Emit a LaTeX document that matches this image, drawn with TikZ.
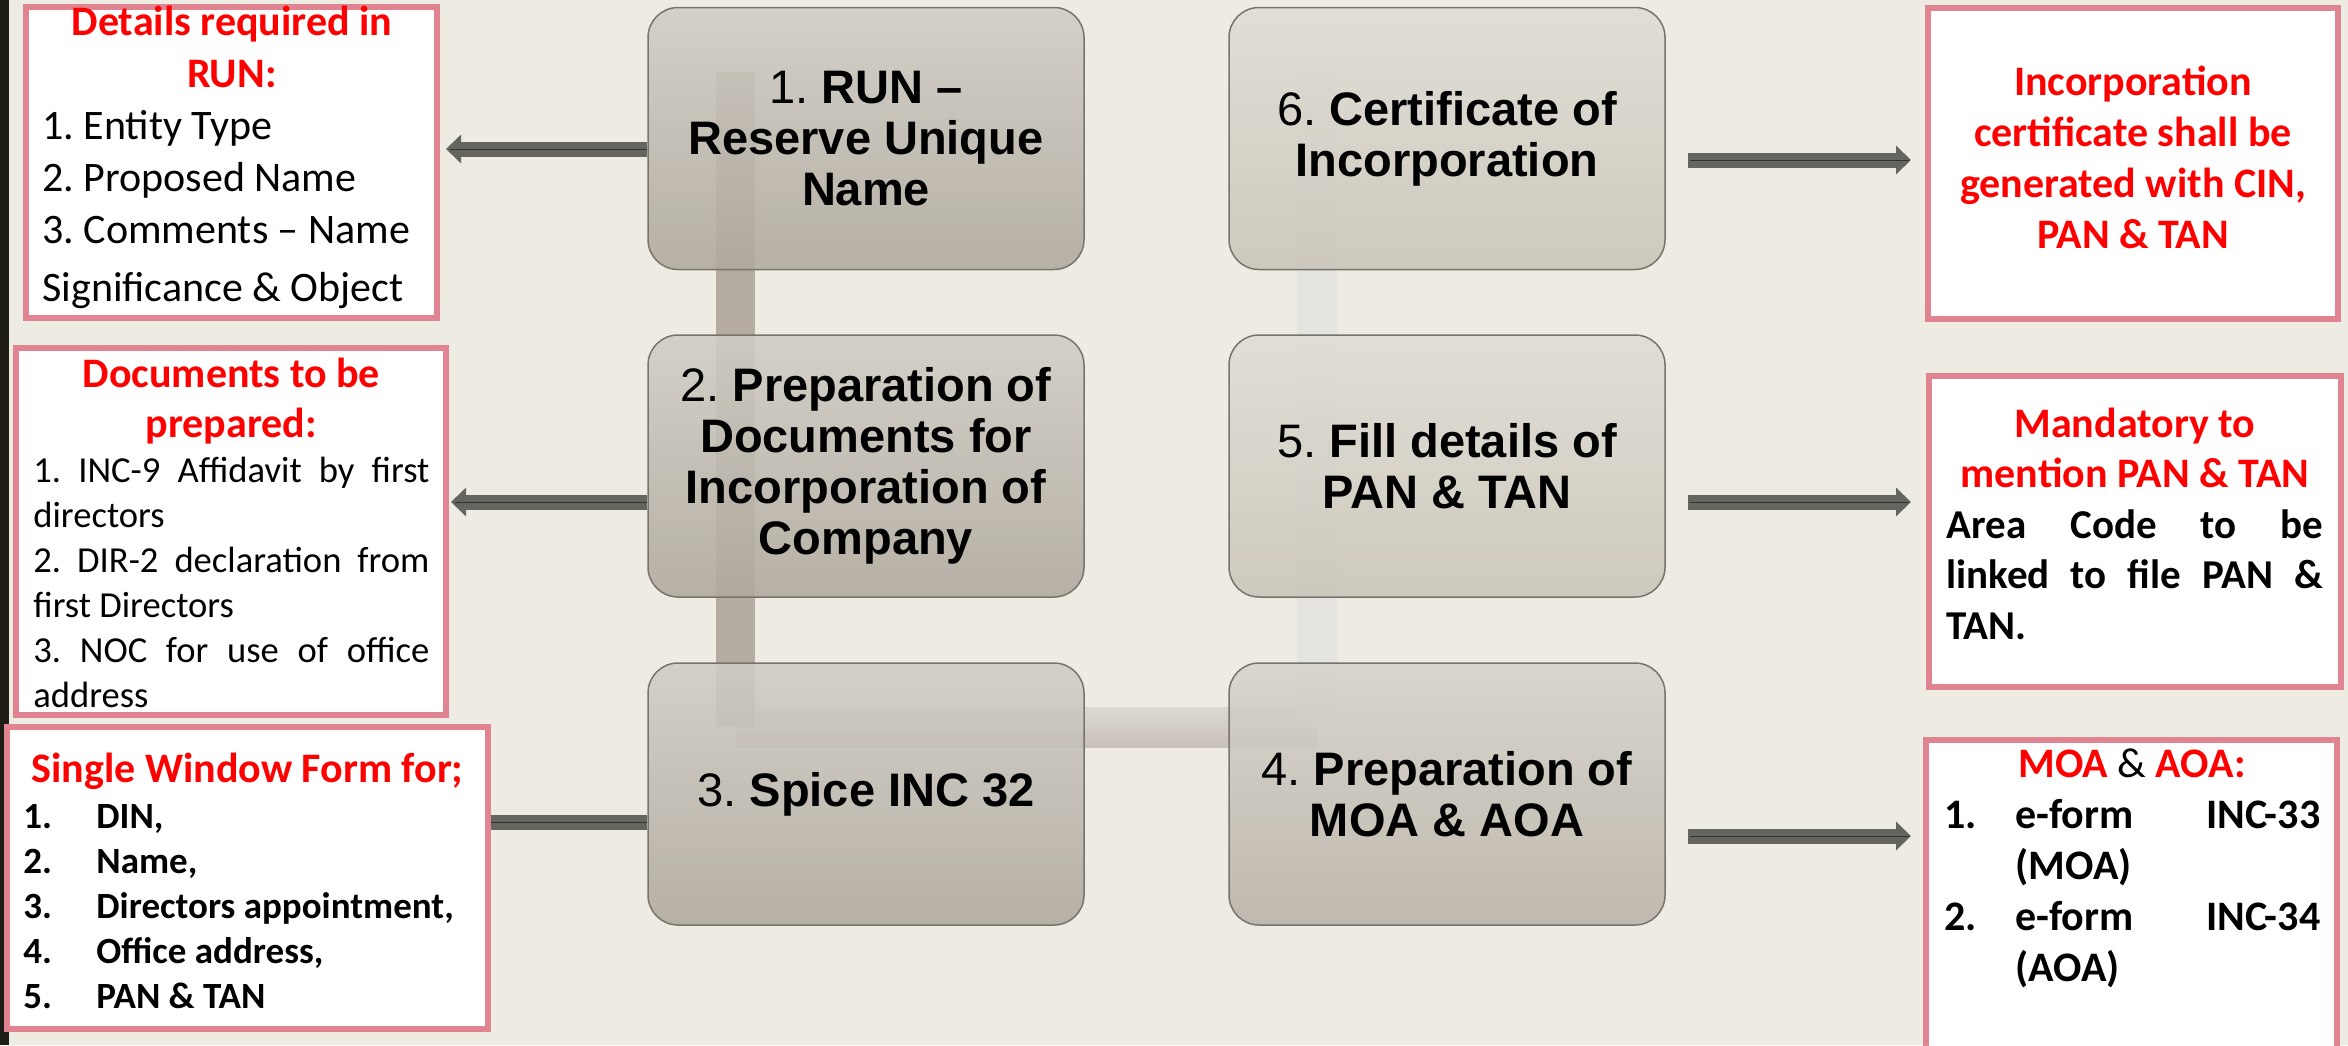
\documentclass[tikz,border=0pt]{standalone}
\usepackage{fontspec}
\setmainfont{Carlito}
\newfontfamily\arialf{Liberation Sans}
\usetikzlibrary{arrows.meta,calc}
\frenchspacing
\definecolor{bgc}{RGB}{238,235,227}
\definecolor{stripc}{RGB}{30,30,22}
\definecolor{pinkb}{RGB}{224,132,146}
\definecolor{redt}{RGB}{255,0,0}
\definecolor{arrc}{RGB}{100,101,94}
\definecolor{arrline}{RGB}{50,50,46}
\definecolor{boxline}{RGB}{120,116,108}
\definecolor{bandl}{RGB}{180,172,161}
\definecolor{bandr}{RGB}{228,227,224}
\definecolor{bandht}{RGB}{220,217,212}
\definecolor{bandhb}{RGB}{200,192,184}
\definecolor{aTop}{RGB}{208,205,197}
\definecolor{aBot}{RGB}{175,168,157}
\definecolor{bTop}{RGB}{224,221,213}
\definecolor{bBot}{RGB}{202,197,185}
\definecolor{cTop}{RGB}{214,211,203}
\definecolor{cBot}{RGB}{185,178,167}
\tikzset{
  cbox/.style={draw=boxline, line width=0.75pt, rounded corners=15pt,
    minimum width=218pt, minimum height=131pt, inner sep=0pt, fill opacity=0.88},
  leftcol/.style={cbox, top color=aTop, bottom color=aBot},
  rightcol/.style={cbox, top color=bTop, bottom color=bBot},
  midcol/.style={cbox, top color=cTop, bottom color=cBot},
  ctext/.style={align=center, inner sep=0pt,
    font=\arialf\fontsize{23.5}{25.5}\selectfont},
  sbox/.style={draw=pinkb, line width=3pt, fill=white, inner sep=0pt},
  stext/.style={inner sep=0pt},
  arr/.style={draw=arrc, line width=7.5pt, -{Triangle[length=7.5pt,width=14pt]}},
  bar/.style={draw=arrc, line width=7.5pt},
  thinl/.style={draw=arrline, line width=0.5pt},
}
\begin{document}
\begin{tikzpicture}[x=0.5pt,y=-0.5pt]
\useasboundingbox (0,0) rectangle (2348,1045);
\clip (0,0) rectangle (2348,1045);
\fill[bgc] (0,0) rectangle (2348,1045);
\fill[stripc] (0,0) rectangle (9,1045);

% bending band (behind the boxes)
\shade[top color=bandht, bottom color=bandhb] (736,707) rectangle (1317,747);
\fill[bandl] (716,72) rectangle (755,727);
\fill[bandr] (1297,72) rectangle (1337,727);

% central process boxes
\node[leftcol] (b1) at (866,138.5) {};
\node[leftcol] (b2) at (866,466) {};
\node[leftcol] (b3) at (866,794) {};
\node[midcol] (b4) at (1447,794) {};
\node[rightcol] (b5) at (1447,466) {};
\node[rightcol] (b6) at (1447,138.5) {};

% side boxes
\node[sbox, minimum width=205.5pt, minimum height=155.5pt] (dA) at (231.5,162.5) {};
\node[sbox, minimum width=215pt, minimum height=183.5pt] (dB) at (231,531.5) {};

% connectors
\draw[arr, shorten >=3pt] (b1.west |- 0,149) -- (dA.east |- 0,149);
\draw[thinl, shorten >=5pt] (b1.west |- 0,149) -- (dA.east |- 0,149);
\draw[arr, shorten >=1pt] (b2.west |- 0,502) -- (dB.east |- 0,502);
\draw[thinl, shorten >=3pt] (b2.west |- 0,502) -- (dB.east |- 0,502);

\node[sbox, minimum width=240.5pt, minimum height=151pt] (dC) at (247.5,878) {};
\draw[bar] (b3.west |- 0,822) -- (dC.east |- 0,822);
\draw[thinl] (b3.west |- 0,822) -- (dC.east |- 0,822);
\node[sbox, minimum width=240.5pt, minimum height=151pt] (dCtop) at (dC) {};

\node[sbox, minimum width=205pt, minimum height=155.5pt] (dD) at (2133,163.5) {};
\node[sbox, minimum width=206pt, minimum height=155.5pt] (dE) at (2135,531.5) {};
\node[sbox, minimum width=205.5pt, minimum height=160pt] (dF) at (2131.5,900) {};

\draw[arr, shorten <=11pt, shorten >=7pt] (b6.east |- 0,160) -- (dD.west |- 0,160);
\draw[thinl, shorten <=12pt, shorten >=8pt] (b6.east |- 0,160) -- (dD.west |- 0,160);
\draw[arr, shorten <=11pt, shorten >=7.5pt] (b5.east |- 0,502) -- (dE.west |- 0,502);
\draw[thinl, shorten <=12pt, shorten >=8.5pt] (b5.east |- 0,502) -- (dE.west |- 0,502);
\draw[arr, shorten <=11pt, shorten >=6pt] (b4.east |- 0,836) -- (dF.west |- 0,836);
\draw[thinl, shorten <=12pt, shorten >=7pt] (b4.east |- 0,836) -- (dF.west |- 0,836);

% central texts
\node[ctext] (t1) at (b1) {1. \textbf{RUN –}\\\textbf{Reserve Unique}\\\textbf{Name}};
\node[ctext] (t2) at (b2) {2. \textbf{Preparation of}\\\textbf{Documents for}\\\textbf{Incorporation of}\\\textbf{Company}};
\node[ctext] (t3) at (b3) {3. \textbf{Spice INC 32}};
\node[ctext] (t4) at (b4) {4. \textbf{Preparation of}\\\textbf{MOA \& AOA}};
\node[ctext] (t5) at (b5) {5. \textbf{Fill details of}\\\textbf{PAN \& TAN}};
\node[ctext] (t6) at (b6) {6. \textbf{Certificate of}\\\textbf{Incorporation}};

% side texts
\node[stext, anchor=base west] (tA) at (42,35) {\begin{minipage}[t]{189.5pt}
\fontsize{21}{26}\selectfont
{\centering\bfseries\leavevmode\color{redt}Details required in\\RUN:\par}
\mbox{1. Entity Type}\\
\mbox{2. Proposed Name}\\
\mbox{3. Comments – Name}\\[3pt]
\mbox{Significance \& Object}
\end{minipage}};

\node[stext, anchor=base west] (tB) at (33,387) {\begin{minipage}[t]{198pt}
\fontsize{21}{25}\selectfont
{\centering\bfseries\leavevmode\color{redt}Documents to be\\prepared:\par}
\fontsize{18.3}{22.5}\selectfont\sloppy
1. INC-9 Affidavit by first\linebreak directors\par
2. DIR-2 declaration from\linebreak first Directors\par
3. NOC for use of office\linebreak address\par
\end{minipage}};

\node[stext, anchor=base] (tC) at (247.5,782) {\fontsize{21}{25}\selectfont\bfseries\color{redt}Single Window Form for;};
\node[stext, anchor=base west] (tC2) at (23,828) {\begin{minipage}[t]{230pt}
\fontsize{18.5}{22.5}\selectfont\bfseries
\makebox[36.5pt][l]{1.}DIN,\\
\makebox[36.5pt][l]{2.}Name,\\
\makebox[36.5pt][l]{3.}Directors appointment,\\
\makebox[36.5pt][l]{4.}Office address,\\
\makebox[36.5pt][l]{5.}PAN \& TAN
\end{minipage}};

\node[stext, anchor=base] (tD) at (2133,95) {\begin{minipage}[t]{200pt}
\fontsize{21}{25.5}\selectfont\centering\bfseries\leavevmode\color{redt}%
Incorporation\\certificate shall be\\generated with CIN,\\PAN \& TAN
\end{minipage}};

\node[stext, anchor=base west] (tE) at (1946,437) {\begin{minipage}[t]{188.5pt}
\fontsize{21}{25.3}\selectfont
{\centering\bfseries\leavevmode\color{redt}Mandatory to\\mention PAN \& TAN\par}
\fontsize{20.5}{25.3}\selectfont\bfseries\sloppy
Area Code to be\linebreak linked to file PAN \&\linebreak TAN.\par
\end{minipage}};

\node[stext, anchor=base] (tF) at (2132,777) {\fontsize{21}{25}\selectfont\textbf{\color{redt}MOA} \& \textbf{\color{redt}AOA:}};
\node[stext, anchor=base west] (tF2) at (1944,828) {\begin{minipage}[t]{190pt}
\fontsize{21}{25.5}\selectfont\bfseries
\makebox[35.5pt][l]{1.}\makebox[152.5pt]{e-form\hfill INC-33}\\
\hspace*{35.5pt}(MOA)\\
\makebox[35.5pt][l]{2.}\makebox[152.5pt]{e-form\hfill INC-34}\\
\hspace*{35.5pt}(AOA)
\end{minipage}};
\end{tikzpicture}
\end{document}
